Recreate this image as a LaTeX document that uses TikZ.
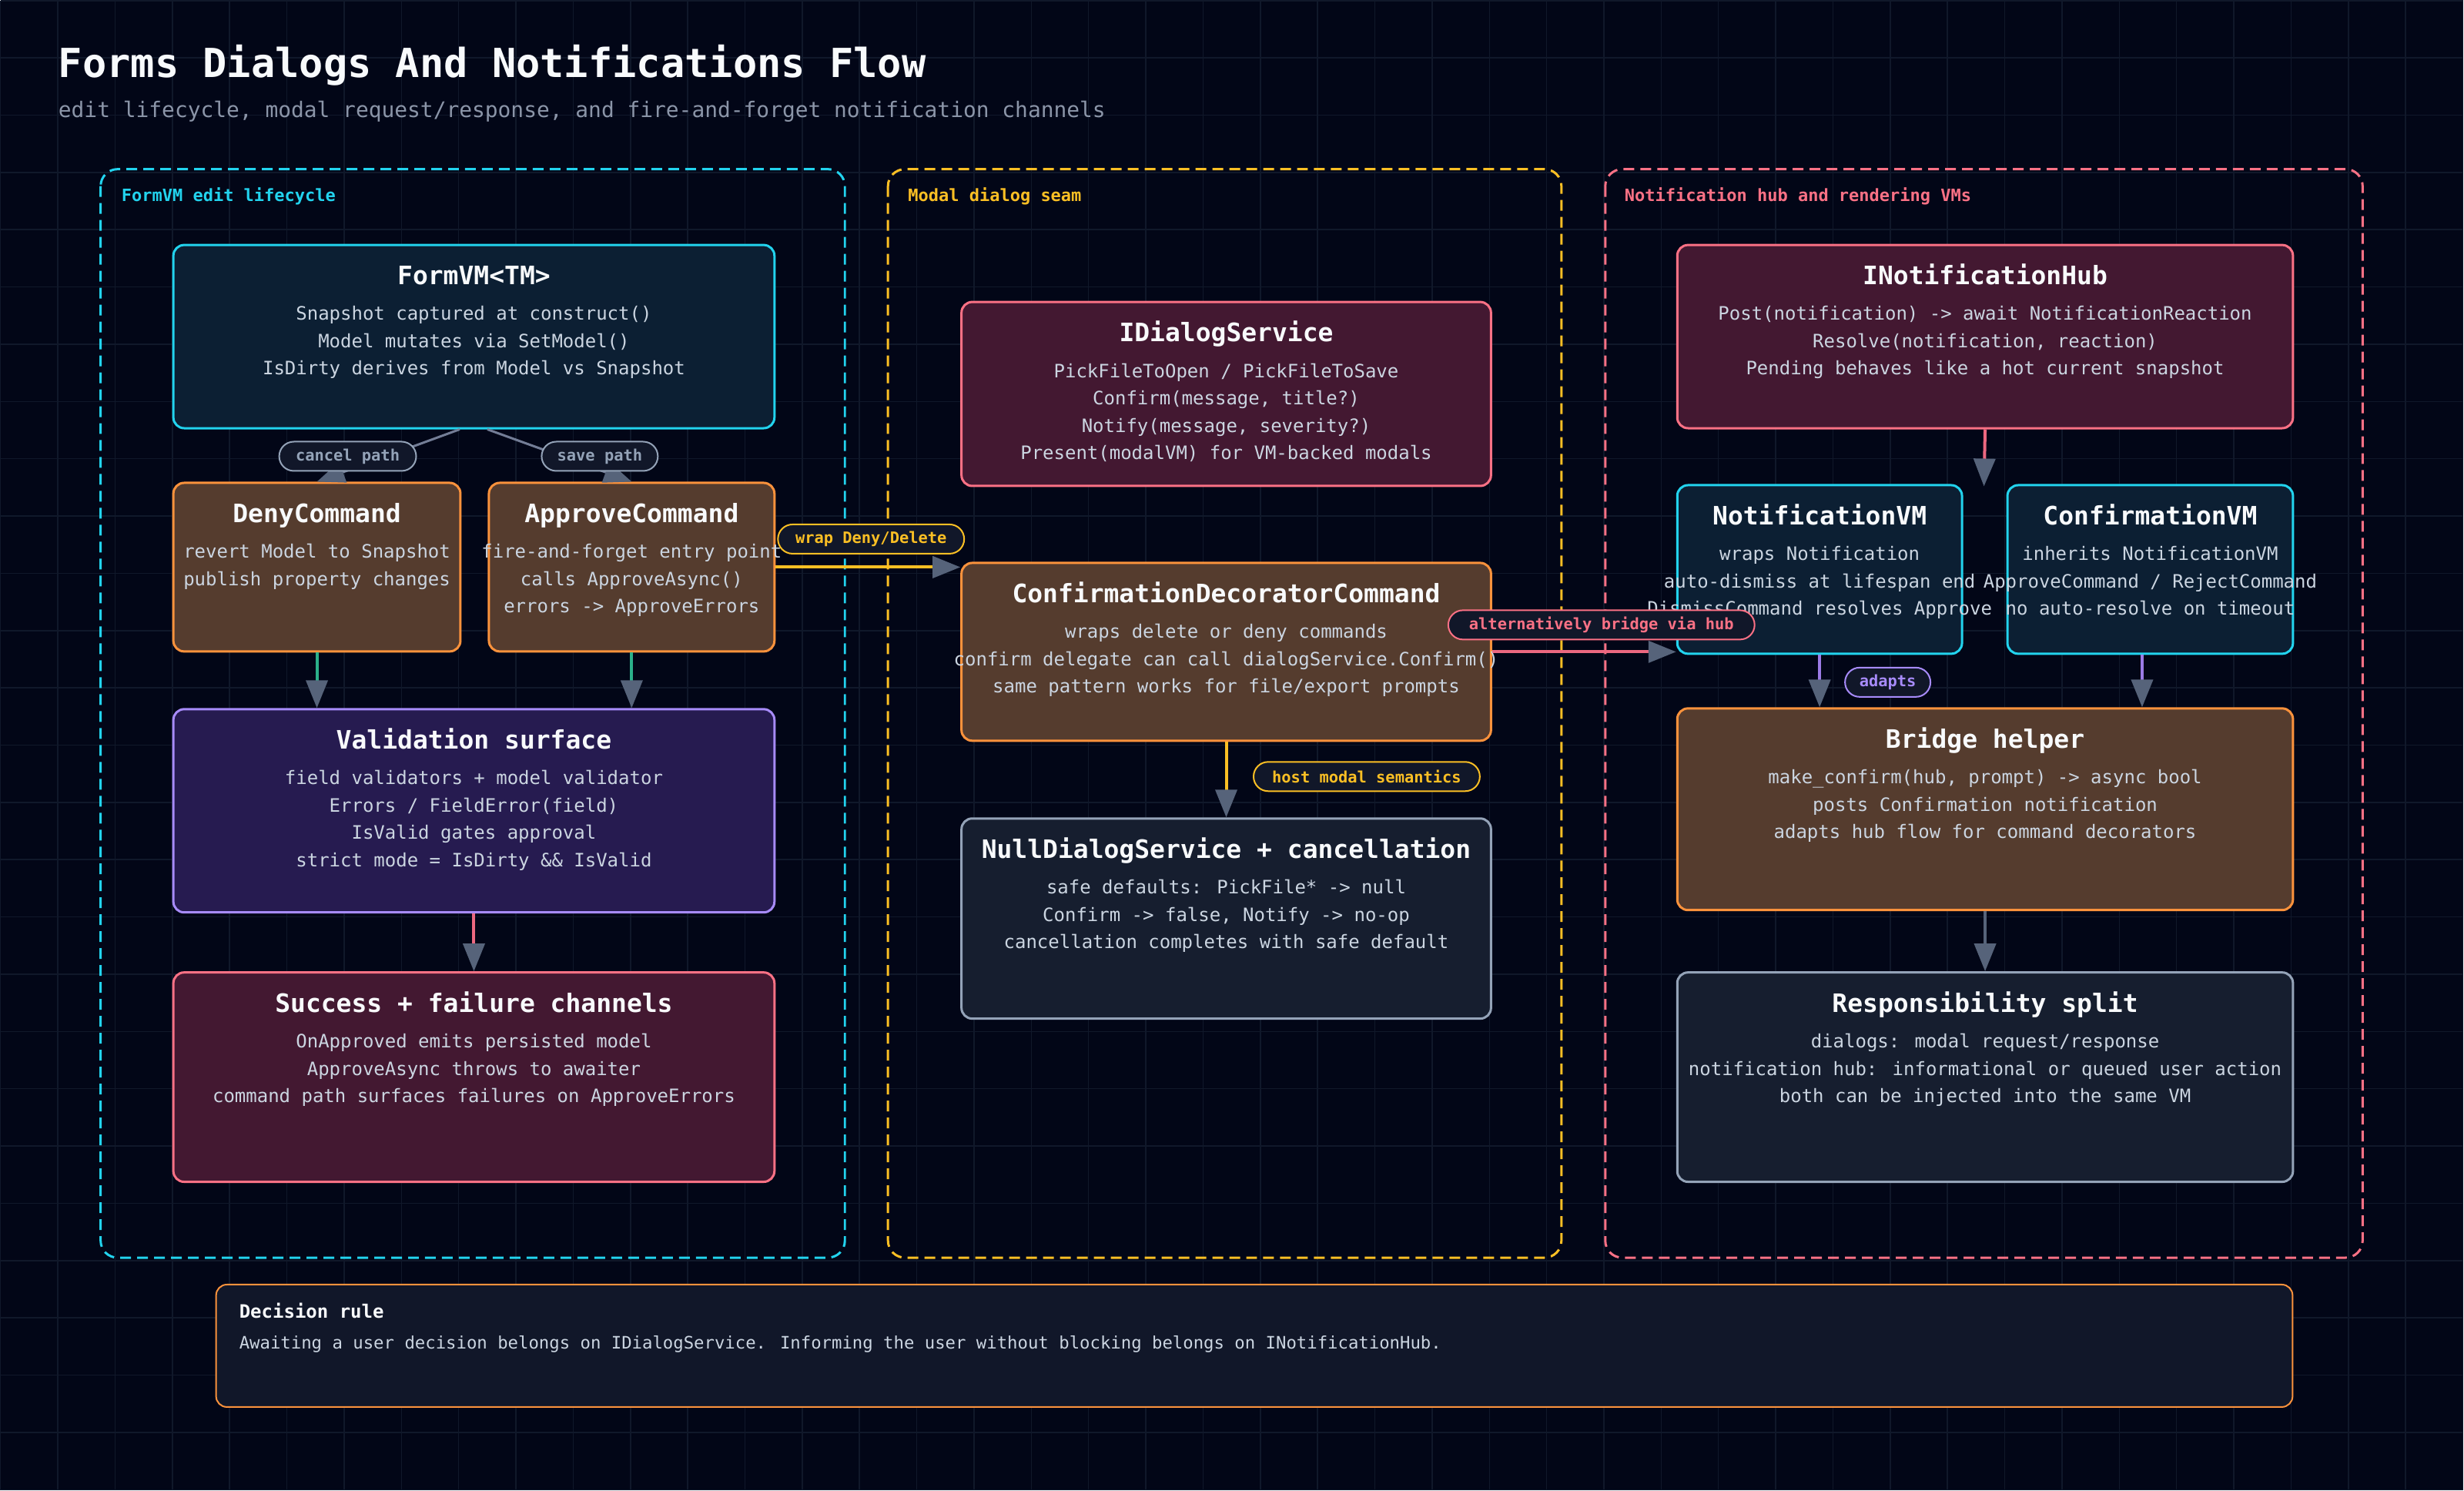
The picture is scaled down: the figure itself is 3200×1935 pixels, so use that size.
\documentclass[tikz,border=0pt]{standalone}
\usepackage{fontspec}
\setmainfont{DejaVu Sans Mono}
\usetikzlibrary{arrows.meta,calc}

\definecolor{bgc}{HTML}{020617}
\definecolor{gridc}{HTML}{10182a}
\definecolor{cyanc}{HTML}{22D3EE}
\definecolor{amberc}{HTML}{FBBF24}
\definecolor{rosec}{HTML}{FB7185}
\definecolor{orangec}{HTML}{FB923C}
\definecolor{violetc}{HTML}{A78BFA}
\definecolor{slatec}{HTML}{94A3B8}
\definecolor{titlec}{HTML}{F8FAFC}
\definecolor{bodyc}{HTML}{CBD5E1}
\definecolor{subc}{HTML}{8B95A8}
\definecolor{tipc}{HTML}{56637A}
\definecolor{greyline}{HTML}{737D96}
\definecolor{greenline}{HTML}{2BB08A}
\definecolor{roseline}{HTML}{EC6880}
\definecolor{violine}{HTML}{9B7BE6}
\definecolor{pillfill}{HTML}{111729}
\definecolor{fillteal}{HTML}{0C1F33}
\definecolor{fillbrown}{HTML}{553C2E}
\definecolor{fillindigo}{HTML}{261B50}
\definecolor{fillmaroon}{HTML}{431831}
\definecolor{fillslate}{HTML}{161E2F}

\newcommand{\card}[9]{%
  \node[cardbox, fill=#6, draw=#7, minimum width=#4pt, minimum height=#5pt, anchor=north west] (#1) at (#2,#3) {};
  \node[cardtitle, anchor=base] (#1-title) at ([yshift=-53pt]#1.north) {#8};
  \node[cardbody, anchor=north] (#1-body) at ([yshift=-81pt]#1.north) {#9};
}

\begin{document}
\begin{tikzpicture}[x=1pt,y=-1pt,
  gridline/.style={draw=gridc, line width=1.5pt},
  group/.style={line width=3pt, dash pattern=on 14pt off 8pt, rounded corners=22pt},
  grouplabel/.style={font=\fontsize{22pt}{26pt}\selectfont\bfseries, anchor=base west, inner sep=0pt},
  cardbox/.style={rounded corners=14pt, line width=3pt, inner sep=0pt},
  cardtitle/.style={font=\fontsize{33pt}{40pt}\selectfont\bfseries, text=titlec, inner sep=0pt},
  cardbody/.style={font=\fontsize{24pt}{35.5pt}\selectfont, text=bodyc, align=center, inner sep=0pt},
  pill/.style={rounded corners=19pt, line width=2pt, fill=pillfill, minimum height=38pt, inner sep=0pt,
    font=\fontsize{20.4pt}{24pt}\selectfont\bfseries},
  conn/.style={line width=4pt, -{Triangle[length=36pt,width=28pt,color=tipc]}},
]
% background and grid
\fill[bgc] (0,0) rectangle (3200,1935);
\foreach \k in {0,...,43} \draw[gridline] ({\k*74.4},0) -- ({\k*74.4},1935);
\foreach \k in {0,...,26} \draw[gridline] (0,{\k*74.4}) -- (3200,{\k*74.4});

% header
\node[font=\fontsize{52pt}{60pt}\selectfont\bfseries, text=titlec, anchor=base west, inner sep=0pt] (title) at (75,100) {Forms Dialogs And Notifications Flow};
\node[font=\fontsize{27.9pt}{32pt}\selectfont, text=subc, anchor=base west, inner sep=0pt] (subtitle) at (75,152) {edit lifecycle, modal request/response, and fire-and-forget notification channels};

% groups
\draw[group, draw=cyanc] (130,219) rectangle (1097,1633);
\node[grouplabel, text=cyanc] (g1) at (157,261) {FormVM edit lifecycle};
\draw[group, draw=amberc] (1153,219) rectangle (2028,1633);
\node[grouplabel, text=amberc] (g2) at (1179,261) {Modal dialog seam};
\draw[group, draw=rosec] (2085,219) rectangle (3069,1633);
\node[grouplabel, text=rosec] (g3) at (2110,261) {Notification hub and rendering VMs};

% cards
\card{formvm}{223}{316}{781}{238}{fillteal}{cyanc}{FormVM<TM>}{Snapshot captured at construct()\\Model mutates via SetModel()\\IsDirty derives from Model vs Snapshot}
\card{deny}{223}{625}{373}{219}{fillbrown}{orangec}{DenyCommand}{revert Model to Snapshot\\publish property changes}
\card{approve}{633}{625}{371}{219}{fillbrown}{orangec}{ApproveCommand}{fire-and-forget entry point\\calls ApproveAsync()\\errors -> ApproveErrors}
\card{valid}{223}{919}{781}{264}{fillindigo}{violetc}{Validation surface}{field validators + model validator\\Errors / FieldError(field)\\IsValid gates approval\\strict mode = IsDirty \&\& IsValid}
\card{success}{223}{1261}{781}{272}{fillmaroon}{rosec}{Success + failure channels}{OnApproved emits persisted model\\ApproveAsync throws to awaiter\\command path surfaces failures on ApproveErrors}

\card{idialog}{1247}{390}{688}{239}{fillmaroon}{rosec}{IDialogService}{PickFileToOpen / PickFileToSave\\Confirm(message, title?)\\Notify(message, severity?)\\Present(modalVM) for VM-backed modals}
\card{decor}{1247}{729}{688}{231}{fillbrown}{orangec}{ConfirmationDecoratorCommand}{wraps delete or deny commands\\confirm delegate can call dialogService.Confirm()\\same pattern works for file/export prompts}
\card{null}{1247}{1061}{688}{260}{fillslate}{slatec}{NullDialogService + cancellation}{safe defaults: PickFile* -> null\\Confirm -> false, Notify -> no-op\\cancellation completes with safe default}

\card{hub}{2177}{316}{800}{238}{fillmaroon}{rosec}{INotificationHub}{Post(notification) -> await NotificationReaction\\Resolve(notification, reaction)\\Pending behaves like a hot current snapshot}
\card{notifvm}{2177}{628}{370}{219}{fillteal}{cyanc}{NotificationVM}{wraps Notification\\auto-dismiss at lifespan end\\DismissCommand resolves Approve}
\card{confvm}{2606}{628}{371}{219}{fillteal}{cyanc}{ConfirmationVM}{inherits NotificationVM\\ApproveCommand / RejectCommand\\no auto-resolve on timeout}
\card{bridge}{2177}{918}{800}{262}{fillbrown}{orangec}{Bridge helper}{make\_confirm(hub, prompt) -> async bool\\posts Confirmation notification\\adapts hub flow for command decorators}
\card{resp}{2177}{1261}{800}{272}{fillslate}{slatec}{Responsibility split}{dialogs: modal request/response\\notification hub: informational or queued user action\\both can be injected into the same VM}

% connectors
\coordinate (hubtip) at (2577,631);
\draw[conn, draw=greyline, line width=3pt] ([xshift=-18.5pt]formvm.south) -- (deny.north);
\draw[conn, draw=greyline, line width=3pt] ([xshift=17.5pt]formvm.south) -- (approve.north);
\draw[conn, draw=greenline] (deny.south) -- (deny.south |- valid.north);
\draw[conn, draw=greenline] (approve.south) -- (approve.south |- valid.north);
\draw[conn, draw=roseline] (valid.south) -- (success.north);
\draw[conn, draw=amberc] (approve.east) -- (decor.west |- approve.east);
\draw[conn, draw=roseline] (decor.east) -- (notifvm.west |- decor.east);
\draw[conn, draw=amberc] (decor.south) -- (null.north);
\draw[conn, draw=roseline] (hub.south) -- (hubtip);
\draw[conn, draw=violine] (notifvm.south) -- (notifvm.south |- bridge.north);
\draw[conn, draw=violine] ([xshift=-10.5pt]confvm.south) -- ([xshift=-10.5pt]confvm.south |- bridge.north);
\draw[conn, draw=tipc] (bridge.south) -- (resp.north);

% connector labels
\node[pill, draw=slatec, text=slatec, minimum width=178pt] (lcancel) at (451,592) {cancel path};
\node[pill, draw=slatec, text=slatec, minimum width=151pt] (lsave) at (778.5,592) {save path};
\node[pill, draw=amberc, text=amberc, minimum width=242pt] (lwrap) at (1131,699.5) {wrap Deny/Delete};
\node[pill, draw=rosec, text=rosec, minimum width=398pt] (lalt) at (2080,811) {alternatively bridge via hub};
\node[pill, draw=violetc, text=violetc, minimum width=111pt] (ladapts) at (2452,885.5) {adapts};
\node[pill, draw=amberc, text=amberc, minimum width=294pt] (lhost) at (1775,1008) {host modal semantics};

% decision rule
\node[draw=orangec, line width=2pt, fill=pillfill, rounded corners=14pt, minimum width=2698pt, minimum height=159pt, anchor=north west, inner sep=0pt] (decision) at (279,1667) {};
\node[font=\fontsize{24pt}{28pt}\selectfont\bfseries, text=titlec, anchor=base west, inner sep=0pt] (decision-title) at (310,1712) {Decision rule};
\node[font=\fontsize{22.3pt}{26pt}\selectfont, text=bodyc, anchor=base west, inner sep=0pt] (decision-body) at (310,1752) {Awaiting a user decision belongs on IDialogService. Informing the user without blocking belongs on INotificationHub.};
\end{tikzpicture}
\end{document}
